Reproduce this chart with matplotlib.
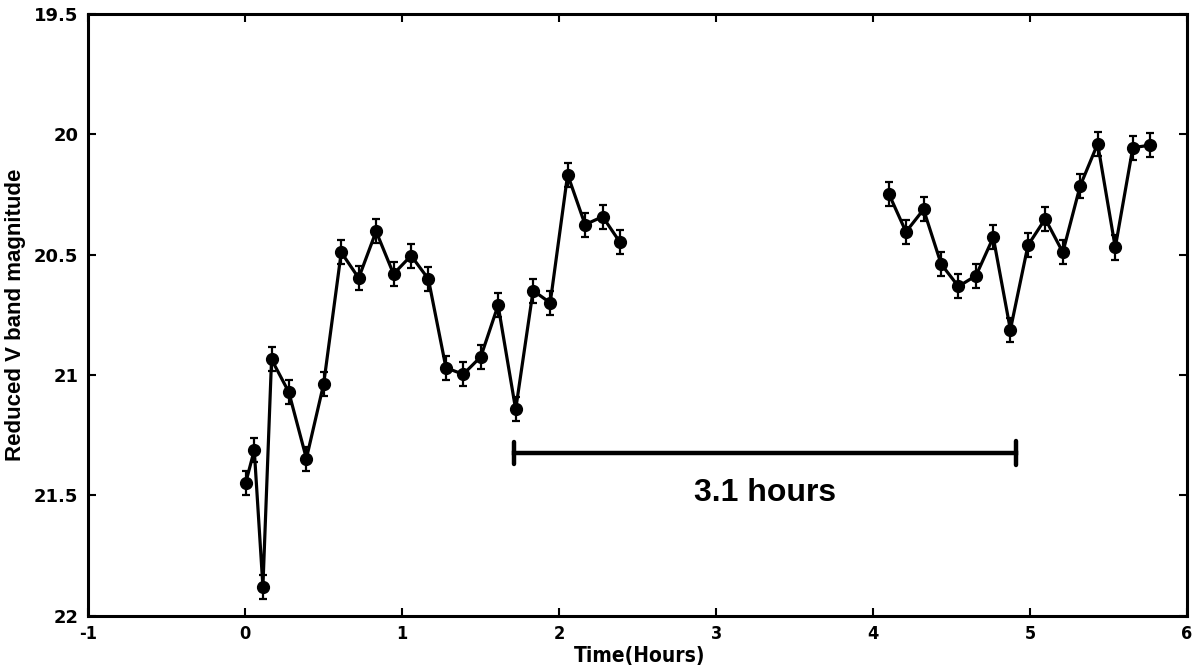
import matplotlib
matplotlib.use("Agg")
import matplotlib.pyplot as plt

# Segment 1 (first observing block)
time1 = [0.004, 0.059, 0.114, 0.169, 0.279, 0.391, 0.501, 0.613, 0.724, 0.835,
         0.946, 1.058, 1.168, 1.280, 1.390, 1.502, 1.612, 1.724, 1.835, 1.944,
         2.055, 2.166, 2.278, 2.389]
mag1 = [21.449, 21.312, 21.879, 20.935, 21.071, 21.347, 21.037, 20.490, 20.597, 20.403,
        20.580, 20.504, 20.601, 20.970, 20.997, 20.924, 20.710, 21.143, 20.649, 20.700,
        20.167, 20.375, 20.342, 20.449]
err1 = [0.05, 0.05, 0.05, 0.05, 0.05, 0.05, 0.05, 0.05, 0.05, 0.05,
        0.05, 0.05, 0.05, 0.05, 0.05, 0.05, 0.05, 0.05, 0.05, 0.05,
        0.05, 0.05, 0.05, 0.05]

# Segment 2 (second observing block)
time2 = [4.100, 4.210, 4.322, 4.434, 4.544, 4.656, 4.766, 4.875, 4.987, 5.097,
         5.209, 5.319, 5.431, 5.543, 5.655, 5.767]
mag2 = [20.246, 20.405, 20.312, 20.539, 20.632, 20.587, 20.428, 20.812, 20.461, 20.351,
        20.490, 20.215, 20.039, 20.470, 20.055, 20.045]
err2 = [0.05, 0.05, 0.05, 0.05, 0.05, 0.05, 0.05, 0.05, 0.05, 0.05,
        0.05, 0.05, 0.05, 0.05, 0.05, 0.05]

# Period annotation
bar_start, bar_end, bar_mag = 1.711, 4.911, 21.325
bar_label = "3.1 hours"

xticks = [-1, 0, 1, 2, 3, 4, 5, 6]
yticks = [19.5, 20, 20.5, 21, 21.5, 22]
ytick_labels = ["19.5", "20", "20.5", "21", "21.5", "22"]

fig = plt.figure(figsize=(11.99, 6.68), dpi=100)
ax = fig.add_axes([0.0734, 0.0783, 0.9166, 0.9007])

for t, m, e in ((time1, mag1, err1), (time2, mag2, err2)):
    ax.errorbar(t, m, yerr=e, fmt='-o', color='black', lw=2.3, ms=8.5,
                elinewidth=1.6, capsize=3.2, capthick=1.6, ecolor='black')

# 3.1 hours bar
ax.plot([bar_start, bar_end], [bar_mag, bar_mag], color='black', lw=3.2)
ax.plot([bar_start, bar_start], [bar_mag - 0.045, bar_mag + 0.045], color='black', lw=3.2,
        solid_capstyle='round')
ax.plot([bar_end, bar_end], [bar_mag - 0.05, bar_mag + 0.05], color='black', lw=3.2,
        solid_capstyle='round')
ax.text((bar_start + bar_end) / 2 + 0.003, 21.49, bar_label, ha='center', va='center',
        fontsize=23, fontweight='bold', family=['Liberation Sans', 'DejaVu Sans'])

ax.set_xlim(-1, 6)
ax.set_ylim(22, 19.5)
ax.set_xticks(xticks)
ax.set_xticklabels([str(v) for v in xticks], fontweight='bold', fontsize=13,
                   family=['DejaVu Sans'], fontstretch='condensed')
ax.set_yticks(yticks)
ax.set_yticklabels(ytick_labels, fontweight='bold', fontsize=13, family=['DejaVu Sans'])

ax.tick_params(direction='in', length=6, width=1.5, top=True, right=True, pad=7)
for sp in ax.spines.values():
    sp.set_linewidth(2.2)

ax.set_xlabel("Time(Hours)", fontweight='bold', fontsize=15, family=['DejaVu Sans'],
              fontstretch='condensed')
ax.xaxis.set_label_coords(0.502, -0.050)
ax.set_ylabel("Reduced V band magnitude", fontweight='bold', fontsize=16,
              family=['Liberation Sans', 'DejaVu Sans'])
ax.yaxis.set_label_coords(-0.056, 0.5)

fig.savefig("out.png", dpi=100)
